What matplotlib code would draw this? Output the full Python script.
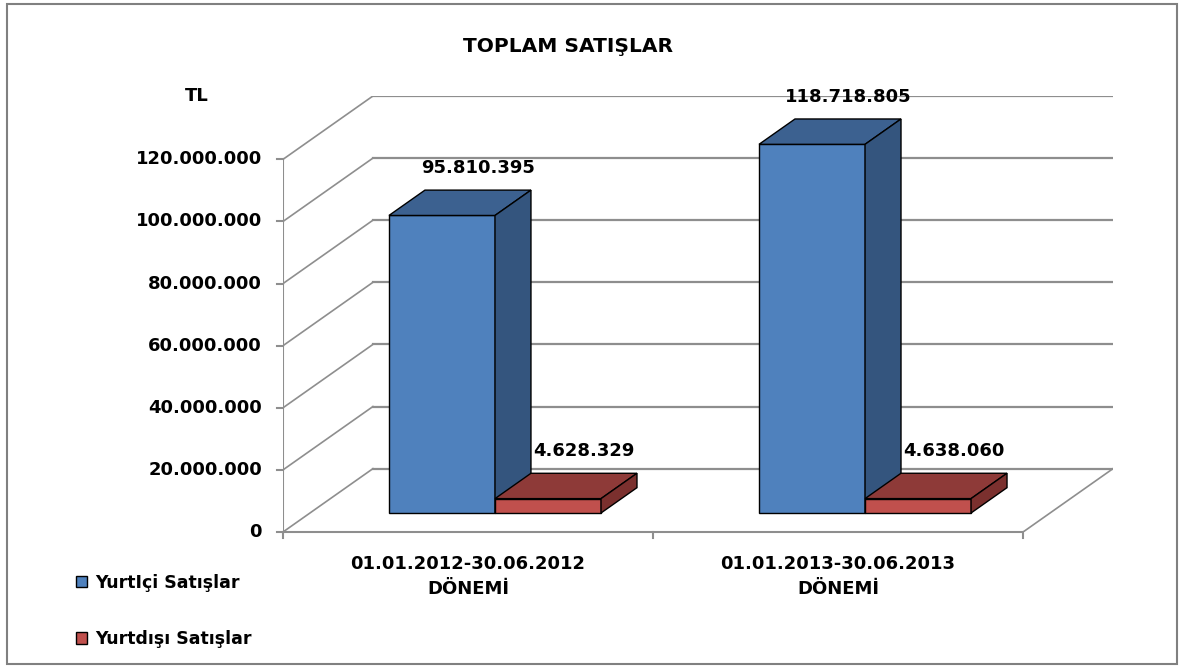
import numpy as np
import matplotlib.pyplot as plt
from matplotlib.patches import Polygon, Rectangle, Patch

# =============================================================================
# Data
# =============================================================================
periods = ['01.01.2012-30.06.2012\nDÖNEMİ', '01.01.2013-30.06.2013\nDÖNEMİ']
yurtici = [95810395, 118718805]
yurtdisi = [4628329, 4638060]
series_names = ['YurtIçi Satışlar', 'Yurtdışı Satışlar']
yticks = np.arange(0, 120000001, 20000000)

# colours: front, top, side
blue = ['#4f81bd', '#3c6190', '#34557e']
red = ['#c0504d', '#8e3a38', '#7b302e']
grid_col = '#8e8e8e'

# =============================================================================
# 3D-ish geometry (category units / value units)
# =============================================================================
DX = 0.243        # full depth offset in x
DY = 20.4e6       # full depth offset in y
Z0, DZ = 0.3, 0.4 # bar front plane and bar depth (fraction of full depth)
BW = 0.2865       # bar width

W, H = 1183, 666
fig = plt.figure(figsize=(W / 100, H / 100), dpi=100)
ax = fig.add_axes([283 / W, (H - 532) / H, (1113 - 283) / W, (532 - 96) / H])
ax.set_xlim(0, 2 + DX)
ax.set_ylim(0, 120e6 + DY)
ax.axis('off')

fs = 13
font = dict(family='DejaVu Sans', fontweight='bold', color='black')

# back wall, left wall, floor
for v in yticks:
    ax.plot([DX, 2 + DX], [v + DY, v + DY], color=grid_col, lw=1.6, zorder=1)
    ax.plot([0, DX], [v, v + DY], color=grid_col, lw=1.2, zorder=1)
    ax.plot([-0.016, 0], [v, v], color=grid_col, lw=1.5, clip_on=False, zorder=1)
    ax.annotate(f'{v:,.0f}'.replace(',', '.'), (0, v), xytext=(-21, 0),
                textcoords='offset pixels', ha='right', va='center',
                fontsize=fs, annotation_clip=False, **font)
ax.plot([0, 0], [0, yticks[-1]], color=grid_col, lw=1.5, zorder=1)
ax.plot([0, 2], [0, 0], color=grid_col, lw=1.5, clip_on=False, zorder=1)
ax.plot([2, 2 + DX], [0, DY], color=grid_col, lw=1.2, zorder=1)
for c in range(3):
    ax.plot([c, c], [0, -1.9e6], color=grid_col, lw=1.5, clip_on=False, zorder=1)


def draw_box(x0, h, cols):
    z1 = Z0 + DZ
    fx, fy = x0 + Z0 * DX, Z0 * DY
    bx, by = x0 + z1 * DX, z1 * DY
    front = [(fx, fy), (fx + BW, fy), (fx + BW, fy + h), (fx, fy + h)]
    top = [(fx, fy + h), (fx + BW, fy + h), (bx + BW, by + h), (bx, by + h)]
    side = [(fx + BW, fy), (bx + BW, by), (bx + BW, by + h), (fx + BW, fy + h)]
    for pts, col in zip([front, top, side], cols):
        ax.add_patch(Polygon(pts, closed=True, facecolor=col, edgecolor='black',
                             lw=1.0, zorder=3, clip_on=False))
    # label
    ax.annotate(f'{h:,.0f}'.replace(',', '.'), (x0 + BW / 2 + z1 * DX, h + z1 * DY),
                xytext=(0, 22), textcoords='offset pixels', ha='center', va='center',
                fontsize=fs, annotation_clip=False, zorder=4, **font)


for i in range(len(periods)):
    c = i + 0.5
    draw_box(c - BW, yurtici[i], blue)
    draw_box(c, yurtdisi[i], red)
    ax.text(c, -7.3e6, periods[i], ha='center', va='top', fontsize=fs,
            linespacing=1.55, **font)

# =============================================================================
# Texts, legend, border
# =============================================================================
fig.text(568 / W, 1 - 46 / H, 'TOPLAM SATIŞLAR', ha='center', va='center',
         fontsize=14.5, **font)
fig.text(197 / W, 1 - 96 / H, 'TL', ha='center', va='center', fontsize=fs, **font)

handles = [Patch(facecolor=blue[0], edgecolor='black', lw=1.0),
           Patch(facecolor=red[0], edgecolor='black', lw=1.0)]
fig.legend(handles, series_names, loc='upper left',
           bbox_to_anchor=(60 / W, 1 - 558 / H), frameon=False,
           prop=dict(family='DejaVu Sans', weight='bold', size=12.5),
           handlelength=0.65, handleheight=0.65, handletextpad=0.5,
           labelspacing=2.2)

fig.add_artist(Rectangle((7 / W, 1 - 664 / H), 1170 / W, 660 / H,
                         transform=fig.transFigure, fill=False,
                         edgecolor='#808080', lw=1.5))

fig.savefig('out.png', dpi=100)
